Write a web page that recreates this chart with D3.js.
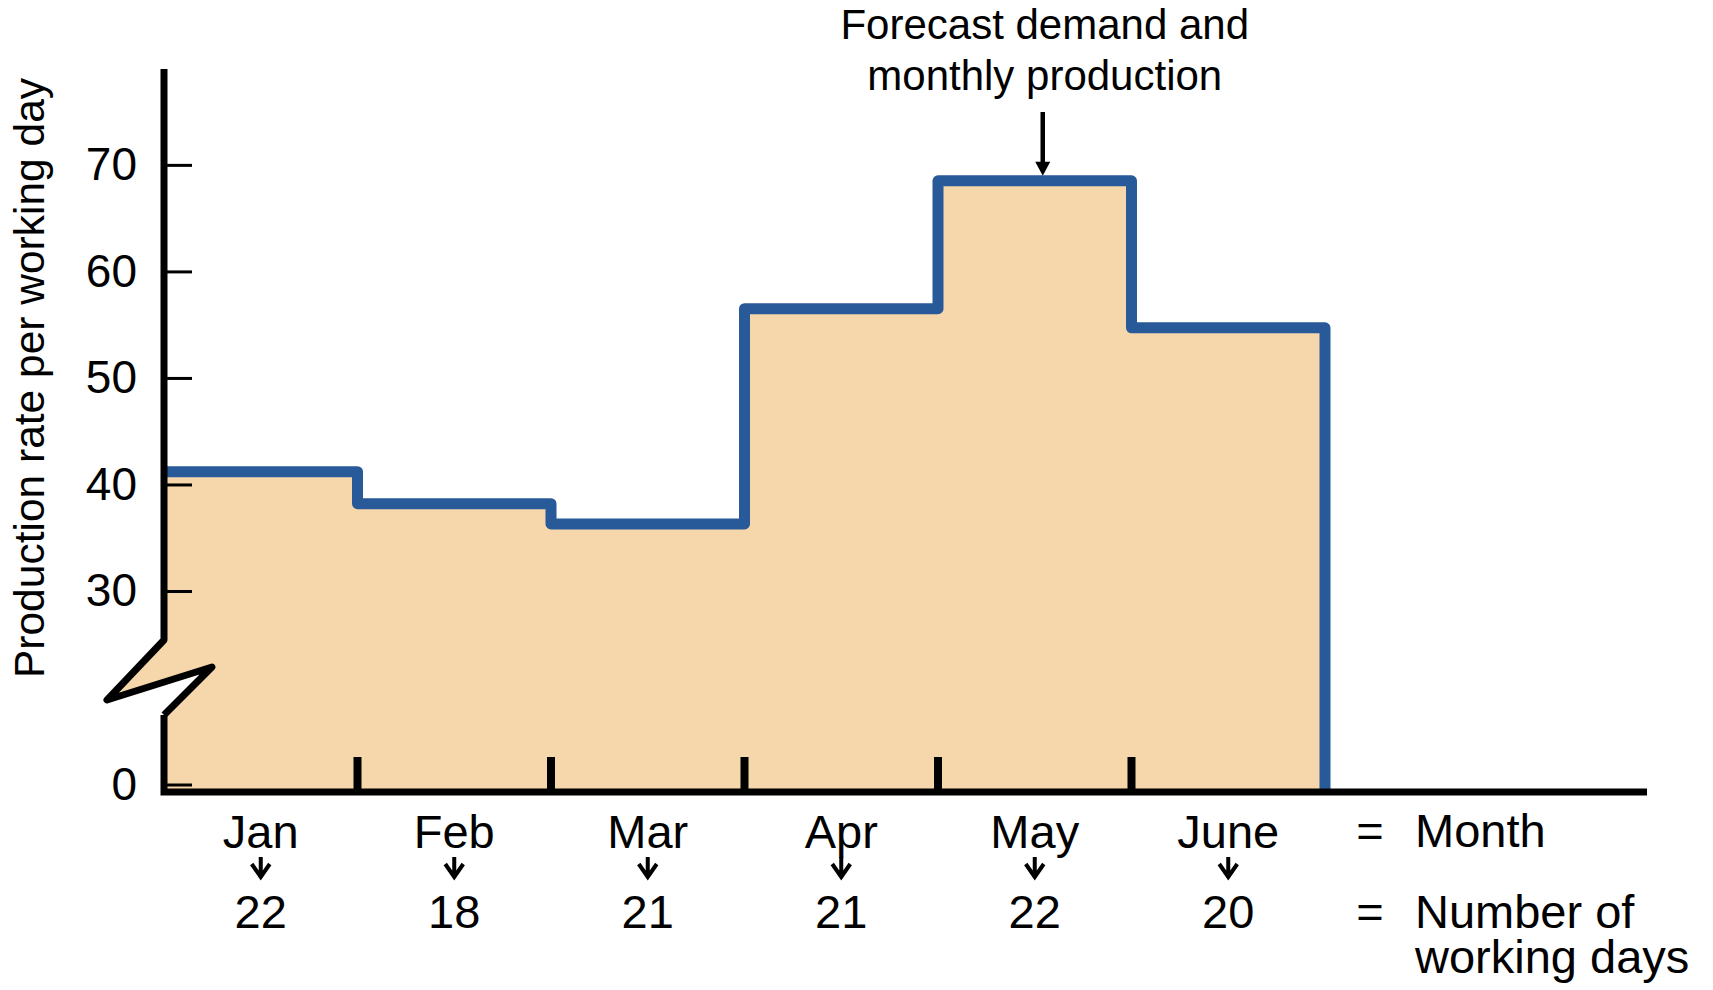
<!DOCTYPE html>
<html>
<head>
<meta charset="utf-8">
<script src="https://cdn.jsdelivr.net/npm/d3@7"></script>
<style>
  html, body { margin: 0; padding: 0; background: #fff; }
  svg { display: block; }
  text { font-family: "Liberation Sans", Arial, sans-serif; fill: #000; }
</style>
</head>
<body>
<script>
// Monthly data: production rate per working day, drawn as a stepped profile
const months = ["Jan", "Feb", "Mar", "Apr", "May", "June"];
const workingDays = [22, 18, 21, 21, 22, 20];
const ratePerDay = [41.2, 38.2, 36.3, 56.5, 68.5, 54.7];
const yTickValues = [0, 30, 40, 50, 60, 70];
const rowLegend = ["Month", "Number of working days"];
const annotationLines = ["Forecast demand and", "monthly production"];
const yTitle = "Production rate per working day";

const W = 1713, H = 990;
const plotLeft = 164, plotRight = 1325, plotBase = 792, plotTop = 69, axisEnd = 1647;
const fillColor = "#F6D7AB", lineColor = "#285A99";

const svg = d3.select("body").append("svg").attr("width", W).attr("height", H);

// One equal-width bin per month
const x = d3.scaleLinear().domain([0, months.length]).range([plotLeft, plotRight]);
// Broken value axis: 0 sits on the baseline, 30..79 is the linear part
const y = d3.scaleLinear().domain([0, 30, 79]).range([plotBase, 591, plotTop]);

// Step outline points
const stepPts = [];
ratePerDay.forEach((v, i) => {
  stepPts.push([x(i), y(v)]);
  stepPts.push([x(i + 1), y(v)]);
});
const line = d3.line();

// Axis-break zigzag (relative to the axis and the 30 level)
const y30 = y(30);
const zig = [
  [plotLeft, y30 + 49],
  [plotLeft - 57, y30 + 109],
  [plotLeft + 48, y30 + 76],
  [plotLeft, y30 + 124]
];

// Filled area: steps down to the baseline, back along it, up through the break
const fillPts = stepPts.concat([
  [x(months.length), y(0)],
  [plotLeft, y(0)],
  zig[3], zig[2], zig[1], zig[0]
]);
svg.append("path")
  .attr("d", line(fillPts) + "Z")
  .attr("fill", fillColor);

// Step line
svg.append("path")
  .attr("d", line(stepPts.concat([[x(months.length), y(0)]])))
  .attr("fill", "none")
  .attr("stroke", lineColor)
  .attr("stroke-width", 11)
  .attr("stroke-linejoin", "round");

// Y ticks and labels
const yAxis = d3.axisLeft(y)
  .tickValues(yTickValues)
  .tickSizeInner(-28)
  .tickSizeOuter(0)
  .tickPadding(27)
  .tickFormat(d3.format("d"));
const gy = svg.append("g").attr("transform", `translate(${plotLeft},0)`).call(yAxis);
gy.select(".domain").remove();
gy.selectAll(".tick line").attr("stroke", "#000").attr("stroke-width", 3);
gy.selectAll(".tick text")
  .attr("font-size", 46)
  .attr("font-family", '"Liberation Sans", Arial, sans-serif')
  .attr("fill", "#000");
// Lift the zero tick so it sits just above the thick baseline
gy.selectAll(".tick").filter(d => d === 0)
  .attr("transform", `translate(0,${y(0) - 7})`);

// Month boundary ticks on the baseline
svg.append("g").selectAll("line")
  .data(d3.range(1, months.length))
  .join("line")
  .attr("x1", d => x(d)).attr("x2", d => x(d))
  .attr("y1", plotBase - 35).attr("y2", plotBase)
  .attr("stroke", "#000").attr("stroke-width", 8);

// Vertical axis with the break
svg.append("path")
  .attr("d", line([[plotLeft, plotTop], zig[0], zig[1], zig[2], zig[3]]))
  .attr("fill", "none").attr("stroke", "#000").attr("stroke-width", 7)
  .attr("stroke-linejoin", "round");
svg.append("path")
  .attr("d", line([zig[3], [plotLeft, plotBase], [axisEnd, plotBase]]))
  .attr("fill", "none").attr("stroke", "#000").attr("stroke-width", 7)
  .attr("stroke-linejoin", "miter");

// Month names, arrows and working days below each bin
const mid = i => (x(i) + x(i + 1)) / 2;
const cat = svg.append("g").selectAll("g")
  .data(months.map((m, i) => ({ m, d: workingDays[i], cx: mid(i) })))
  .join("g");
cat.append("text")
  .attr("x", d => d.cx).attr("y", 848)
  .attr("text-anchor", "middle").attr("font-size", 47)
  .text(d => d.m);
cat.append("path")
  .attr("d", d => `M${d.cx},857 V878 M${d.cx - 9},864 L${d.cx},877 L${d.cx + 9},864`)
  .attr("fill", "none").attr("stroke", "#000").attr("stroke-width", 4);
cat.append("text")
  .attr("x", d => d.cx).attr("y", 928)
  .attr("text-anchor", "middle").attr("font-size", 47)
  .text(d => d.d);

// Row legend on the right
const legX = 1415;
[847, 928].forEach(by => {
  svg.append("text").attr("x", 1370).attr("y", by)
    .attr("text-anchor", "middle").attr("font-size", 47).text("=");
});
svg.append("text").attr("x", legX).attr("y", 847).attr("font-size", 47).text(rowLegend[0]);
const words = rowLegend[1].split(" ");
const wrapped = svg.append("text").attr("x", legX).attr("y", 928).attr("font-size", 47);
wrapped.append("tspan").attr("x", legX).attr("y", 928).text(words.slice(0, 2).join(" "));
wrapped.append("tspan").attr("x", legX).attr("y", 973).text(words.slice(2).join(" "));

// Annotation above the peak month
const peak = ratePerDay.indexOf(d3.max(ratePerDay));
const ax = mid(peak) + 10;
const note = svg.append("text").attr("text-anchor", "middle").attr("font-size", 42);
annotationLines.forEach((t, i) => {
  note.append("tspan").attr("x", ax).attr("y", 39 + i * 51).text(t);
});
const tipY = y(ratePerDay[peak]) - 5;
svg.append("line")
  .attr("x1", ax - 2).attr("x2", ax - 2).attr("y1", 112).attr("y2", tipY - 12)
  .attr("stroke", "#000").attr("stroke-width", 4.5);
svg.append("path")
  .attr("d", `M${ax - 9.5},${tipY - 14} L${ax + 5.5},${tipY - 14} L${ax - 2},${tipY} Z`)
  .attr("fill", "#000");

// Y-axis title
svg.append("text")
  .attr("transform", `translate(44,378) rotate(-90)`)
  .attr("text-anchor", "middle").attr("font-size", 42.5)
  .text(yTitle);
</script>
</body>
</html>
